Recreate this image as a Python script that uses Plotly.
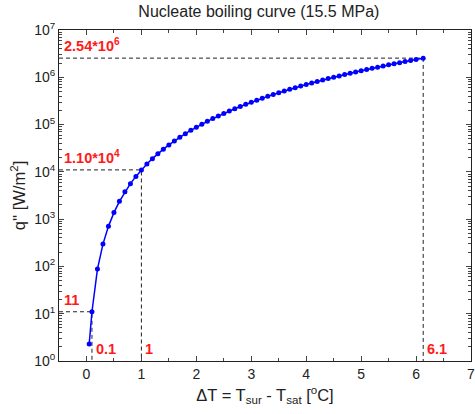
import plotly.graph_objects as go
import math

# Data
dT = [0.05, 0.1, 0.2, 0.3, 0.4, 0.5, 0.6, 0.7, 0.8, 0.9, 1.0,
      1.1, 1.2, 1.3, 1.4, 1.5, 1.6, 1.7, 1.8, 1.9, 2.0,
      2.1, 2.2, 2.3, 2.4, 2.5, 2.6, 2.7, 2.8, 2.9, 3.0,
      3.1, 3.2, 3.3, 3.4, 3.5, 3.6, 3.7, 3.8, 3.9, 4.0,
      4.1, 4.2, 4.3, 4.4, 4.5, 4.6, 4.7, 4.8, 4.9, 5.0,
      5.1, 5.2, 5.3, 5.4, 5.5, 5.6, 5.7, 5.8, 5.9, 6.0, 6.13]
q = [2.3, 11, 88, 297, 704, 1375, 2376, 3773, 5632, 8019, 11000,
     14641, 19008, 24167, 30184, 37125, 45056, 54043, 64152, 75449, 88000,
     101871, 117128, 133837, 152064, 171875, 193336, 216513, 241472, 268279, 297000,
     327701, 360448, 395307, 432344, 471625, 513216, 557183, 603592, 652509, 704000,
     758131, 814968, 874577, 937024, 1002375, 1070696, 1142053, 1216512, 1294139, 1375000,
     1459161, 1546688, 1637647, 1732104, 1830125, 1931776, 2037123, 2146232, 2259169, 2376000, 2540000]

# Marked reference points (ΔT, q, labels)
mark_dT = [0.1, 1.0, 6.13]
mark_q = [11, 11000, 2540000]
mark_q_labels = ["11", "1.10*10<sup>4</sup>", "2.54*10<sup>6</sup>"]
mark_dT_labels = ["0.1", "1", "6.1"]

x_ticks = [0, 1, 2, 3, 4, 5, 6, 7]
y_exps = [0, 1, 2, 3, 4, 5, 6, 7]

FONT = "Liberation Sans, Arial, sans-serif"
fig = go.Figure()

# dashed guide lines
for xd, yd in zip(mark_dT, mark_q):
    fig.add_trace(go.Scatter(x=[-0.5, xd, xd], y=[yd, yd, 1], mode="lines",
                             line=dict(color="#222222", width=1, dash="4px,3px"),
                             showlegend=False, hoverinfo="skip"))

fig.add_trace(go.Scatter(x=dT, y=q, mode="lines+markers",
                         line=dict(color="#0000ff", width=1.5),
                         marker=dict(color="#0000ff", size=5),
                         showlegend=False))

# labels for q values
for xd, yd, lab in zip(mark_dT, mark_q, mark_q_labels):
    fig.add_annotation(x=-0.45, y=math.log10(yd), text="<b>" + lab + "</b>",
                       showarrow=False, xanchor="left", yanchor="bottom",
                       yshift=2, font=dict(color="#ff1a1a", size=14.5, family=FONT))
# labels for ΔT values
for xd, lab in zip(mark_dT, mark_dT_labels):
    fig.add_annotation(x=xd, y=0, text="<b>" + lab + "</b>",
                       showarrow=False, xanchor="left", yanchor="bottom",
                       xshift=2, yshift=2, font=dict(color="#ff1a1a", size=14.5, family=FONT))

minor_y = [m * 10 ** e for e in range(0, 7) for m in range(2, 10)]

fig.update_layout(
    width=475, height=414,
    margin=dict(l=59, r=4, t=30, b=53),
    paper_bgcolor="white", plot_bgcolor="white",
    font=dict(family=FONT, color="#222222", size=14),
    title=dict(text="Nucleate boiling curve (15.5 MPa)", x=0.545, xanchor="center",
               y=0.985, yanchor="top", font=dict(size=16, color="#222222")),
    xaxis=dict(range=[-0.5, 7], tickvals=x_ticks, ticks="inside", ticklen=5,
               showline=True, linecolor="#222222", linewidth=1, mirror="ticks",
               showgrid=False, zeroline=False, tickfont=dict(size=14), automargin=False,
               ticklabeloverflow="allow",
               minor=dict(ticks="inside", ticklen=3, dtick=0.5, tick0=0.5, showgrid=False),
               title=dict(text="ΔT = T<sub>sur</sub> - T<sub>sat</sub> [<sup>o</sup>C]",
                          font=dict(size=16.5), standoff=8)),
    yaxis=dict(type="log", range=[0, 7],
               tickvals=[10 ** e for e in y_exps],
               ticktext=["10<sup>%d</sup>" % e for e in y_exps],
               ticks="inside", ticklen=5,
               showline=True, linecolor="#222222", linewidth=1, mirror="ticks",
               showgrid=False, zeroline=False, tickfont=dict(size=14), automargin=False,
               ticklabeloverflow="allow",
               minor=dict(ticks="inside", ticklen=3, tickvals=minor_y, showgrid=False),
               title=dict(text="q'' [W/m<sup>2</sup>]", font=dict(size=16.5), standoff=4)),
)

fig.write_html("out.html", config={"displayModeBar": False},
               post_script="document.body.style.margin='0';document.body.style.overflow='hidden';")
